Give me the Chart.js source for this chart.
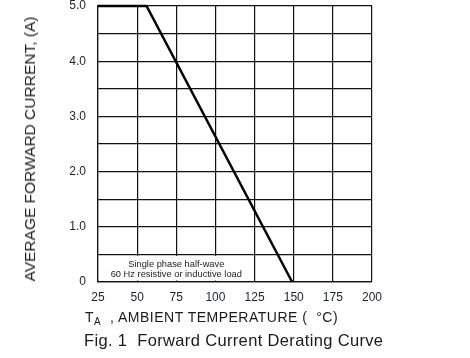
<!DOCTYPE html>
<html>
<head>
<meta charset="utf-8">
<script src="https://cdn.jsdelivr.net/npm/chart.js@4.4.1/dist/chart.umd.min.js"></script>
<style>
  html, body { margin: 0; padding: 0; background: #fff; }
  #wrap { position: relative; width: 470px; height: 358px; font-family: Arial, "Liberation Sans", sans-serif; color: #1a1a1a; }
  #myChart { position: absolute; left: 0; top: 0; }
  .ytitle { position: absolute; left: 30px; top: 149px; transform: translate(-50%, -50%) rotate(-90deg); white-space: nowrap; font-size: 15.5px; color: #222; }
  .xtitle { position: absolute; left: 85px; top: 309px; white-space: nowrap; font-size: 14px; letter-spacing: 0.5px; }
  .xtitle sub { font-size: 10px; vertical-align: -3px; }
  .caption { position: absolute; left: 84px; top: 331px; white-space: nowrap; font-size: 16.5px; letter-spacing: 0.35px; }
</style>
</head>
<body>
<div id="wrap">
  <canvas id="myChart" width="470" height="358"></canvas>
  <div class="ytitle">AVERAGE FORWARD CURRENT, (A)</div>
  <div class="xtitle">T<sub>A</sub>&nbsp; , AMBIENT TEMPERATURE (&nbsp; °C)</div>
  <div class="caption">Fig. 1&nbsp; Forward Current Derating Curve</div>
</div>
<script>
// dados da curva
const tempC = [25, 56, 149];
const currentA = [5.0, 5.0, 0];

// rótulos dos eixos
const xTicks = ["25", "50", "75", "100", "125", "150", "175", "200"];
const yTicks = ["0", "1.0", "2.0", "3.0", "4.0", "5.0"];

const noteLines = ["Single phase half-wave", "60 Hz resistive or inductive load"];

// caixa de nota no canto inferior esquerdo (apaga a grade e escreve o texto)
const notePlugin = {
  id: "note",
  beforeDatasetsDraw(chart) {
    const { ctx, scales } = chart;
    const x0 = scales.x.getPixelForValue(25);
    const x1 = scales.x.getPixelForValue(125);
    const y0 = scales.y.getPixelForValue(0.5);
    const y1 = scales.y.getPixelForValue(0);
    ctx.save();
    ctx.fillStyle = "#fff";
    ctx.fillRect(x0 + 1.5, y0 + 1.5, x1 - x0 - 3, y1 - y0 - 3);
    ctx.fillStyle = "#222";
    ctx.font = "9.3px Arial, 'Liberation Sans', sans-serif";
    ctx.textAlign = "center";
    ctx.textBaseline = "middle";
    const cx = (x0 + x1) / 2;
    ctx.fillText(noteLines[0], cx, y0 + 10);
    ctx.fillText(noteLines[1], cx, y0 + 20);
    ctx.restore();
  },
};

const ctx = document.getElementById("myChart");
new Chart(ctx, {
  type: "line",
  data: {
    datasets: [
      {
        data: tempC.map((t, i) => ({ x: t, y: currentA[i] })),
        borderColor: "#000",
        borderWidth: 2.5,
        pointRadius: 0,
        tension: 0,
        clip: false,
      },
    ],
  },
  options: {
    responsive: false,
    animation: false,
    layout: { padding: { left: 0, right: 98, top: 6, bottom: 0 } },
    scales: {
      x: {
        type: "linear",
        min: 25,
        max: 200,
        afterFit: (s) => { s.height = 76; s.paddingLeft = 0; s.paddingRight = 0; },
        grid: { color: "#111", lineWidth: 1.2, drawTicks: false },
        border: { color: "#111", width: 1.2 },
        ticks: {
          stepSize: 25,
          padding: 8,
          color: "#1c2233",
          font: { family: "Arial, 'Liberation Sans', sans-serif", size: 12 },
          callback: (v) => xTicks[(v - 25) / 25],
          maxRotation: 0,
        },
      },
      y: {
        min: 0,
        max: 5,
        afterFit: (s) => { s.width = 98; s.paddingTop = 0; s.paddingBottom = 0; },
        grid: { color: "#111", lineWidth: 1.2, drawTicks: false },
        border: { color: "#111", width: 1.2 },
        ticks: {
          stepSize: 0.5,
          padding: 12,
          color: "#1c2233",
          font: { family: "Arial, 'Liberation Sans', sans-serif", size: 12 },
          callback: (v) => (Number.isInteger(v) ? yTicks[v] : ""),
        },
      },
    },
    plugins: {
      legend: { display: false },
      tooltip: { enabled: false },
    },
  },
  plugins: [notePlugin],
});
</script>
</body>
</html>
